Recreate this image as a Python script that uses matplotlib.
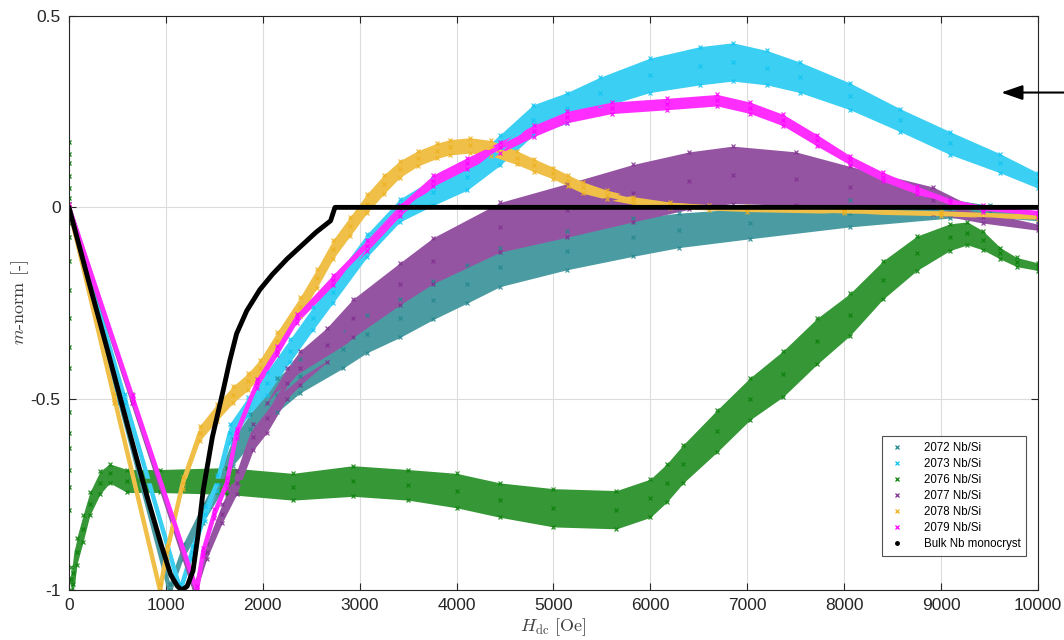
import numpy as np
import matplotlib
matplotlib.use("Agg")
import matplotlib.pyplot as plt
from matplotlib.lines import Line2D
from matplotlib.colors import to_rgb

plt.rcParams["font.family"] = ["Liberation Sans", "DejaVu Sans"]
plt.rcParams["mathtext.fontset"] = "cm"

# field sweep H_dc [Oe] vs normalised moment, one band per sample
# (x, centre value, half spread of the scattered points)
h_2072 = [0, 520, 1040, 1175, 1380, 1560, 1690, 1870, 2150, 2385, 2830, 3075, 3415, 3760,
          4110, 4450, 5140, 5820, 6300, 7030, 8060, 9090, 9500, 10000]
m_2072 = [0, -0.5, -1.0, -0.9, -0.8, -0.72, -0.64, -0.58, -0.49, -0.44, -0.37, -0.33, -0.29, -0.243,
          -0.2, -0.157, -0.113, -0.078, -0.06, -0.042, -0.016, -0.003, -0.01, -0.025]
s_2072 = [0.01, 0.012, 0.015, 0.02, 0.025, 0.03, 0.035, 0.04, 0.045, 0.045, 0.05, 0.05, 0.05, 0.05,
          0.05, 0.05, 0.05, 0.05, 0.045, 0.04, 0.035, 0.025, 0.015, 0.01]

h_2073 = [0, 575, 1150, 1270, 1400, 1530, 1660, 1850, 2040, 2280, 2520, 2725, 3075, 3415, 3760,
          4110, 4450, 4790, 5140, 5480, 5995, 6510, 6850, 7200, 7540, 8060, 8575, 9090, 9610, 10000]
m_2073 = [0, -0.5, -1.0, -0.9, -0.8, -0.72, -0.59, -0.52, -0.46, -0.375, -0.29, -0.22, -0.1, -0.008, 0.04,
          0.08, 0.15, 0.228, 0.26, 0.3, 0.345, 0.37, 0.38, 0.365, 0.34, 0.29, 0.228, 0.168, 0.115, 0.07]
s_2073 = [0.01, 0.012, 0.015, 0.015, 0.02, 0.02, 0.025, 0.025, 0.03, 0.03, 0.03, 0.03, 0.03, 0.03, 0.035,
          0.035, 0.04, 0.04, 0.04, 0.04, 0.045, 0.05, 0.05, 0.045, 0.04, 0.035, 0.03, 0.03, 0.025, 0.02]

h_2076 = [20, 40, 80, 145, 215, 320, 420, 600, 940, 1630, 2310, 2930, 3500, 4000, 4450, 5000, 5650,
          6000, 6170, 6340, 6690, 7030, 7370, 7720, 8060, 8400, 8750, 9090, 9270, 9430, 9610, 9780, 10000]
m_2076 = [-0.97, -0.985, -0.9, -0.84, -0.775, -0.72, -0.695, -0.715, -0.715, -0.715, -0.73, -0.715, -0.725,
          -0.74, -0.765, -0.785, -0.79, -0.76, -0.72, -0.67, -0.584, -0.5, -0.435, -0.35, -0.28, -0.19,
          -0.12, -0.078, -0.068, -0.086, -0.12, -0.143, -0.155]
s_2076 = [0.03, 0.03, 0.035, 0.035, 0.03, 0.03, 0.025, 0.03, 0.03, 0.035, 0.035, 0.04, 0.04, 0.045, 0.045,
          0.05, 0.05, 0.05, 0.05, 0.05, 0.055, 0.055, 0.06, 0.06, 0.055, 0.05, 0.045, 0.035, 0.03, 0.025,
          0.015, 0.012, 0.01]
# first readings of 2076, all taken at zero field
m_2076_zero = [0.17, 0.14, 0.115, 0.083, 0.05, 0.025, -0.04, -0.077, -0.14, -0.215, -0.29, -0.365,
               -0.42, -0.535, -0.59, -0.63, -0.685, -0.73, -0.79]

h_2077 = [0, 650, 1300, 1420, 1580, 1730, 1900, 2040, 2250, 2385, 2660, 2930, 3415, 3760, 4450, 5140,
          5820, 6400, 6850, 7500, 8060, 8920, 9430, 10000]
m_2077 = [0, -0.5, -1.0, -0.9, -0.8, -0.72, -0.6, -0.55, -0.46, -0.42, -0.36, -0.29, -0.2, -0.139, -0.052,
          -0.008, 0.037, 0.07, 0.085, 0.075, 0.052, 0.018, -0.026, -0.052]
s_2077 = [0.01, 0.012, 0.015, 0.02, 0.025, 0.03, 0.035, 0.04, 0.04, 0.045, 0.045, 0.05, 0.055, 0.06, 0.065,
          0.07, 0.075, 0.075, 0.075, 0.07, 0.055, 0.035, 0.015, 0.008]

h_2078 = [0, 470, 940, 1010, 1175, 1350, 1530, 1690, 1850, 1970, 2150, 2385, 2560, 2725, 2900, 3075,
          3250, 3415, 3600, 3800, 3930, 4140, 4350, 4620, 4800, 5000, 5150, 5300, 5550, 5820, 6200,
          6600, 7000, 8000, 9000, 10000]
m_2078 = [0, -0.5, -1.0, -0.9, -0.72, -0.59, -0.535, -0.49, -0.455, -0.42, -0.35, -0.26, -0.185, -0.11,
          -0.05, 0.01, 0.06, 0.1, 0.128, 0.148, 0.157, 0.162, 0.155, 0.13, 0.11, 0.089, 0.07, 0.052,
          0.033, 0.018, 0.006, 0.0, -0.004, -0.01, -0.016, -0.025]
s_2078 = [0.01, 0.012, 0.015, 0.015, 0.015, 0.02, 0.022, 0.022, 0.022, 0.022, 0.025, 0.025, 0.025, 0.025,
          0.025, 0.025, 0.025, 0.022, 0.02, 0.02, 0.02, 0.02, 0.02, 0.018, 0.017, 0.015, 0.015, 0.015,
          0.012, 0.01, 0.008, 0.007, 0.007, 0.006, 0.006, 0.006]

h_2079 = [0, 660, 1320, 1385, 1500, 1630, 1730, 1940, 2150, 2350, 2725, 3075, 3415, 3760, 4110, 4450,
          4800, 5140, 5600, 6170, 6690, 7030, 7370, 7720, 8060, 8400, 8750, 9090, 9430, 10000]
m_2079 = [0, -0.5, -1.0, -0.9, -0.8, -0.72, -0.59, -0.46, -0.375, -0.29, -0.19, -0.1, -0.008, 0.07,
          0.115, 0.157, 0.2, 0.236, 0.26, 0.27, 0.28, 0.26, 0.228, 0.175, 0.123, 0.08, 0.045, 0.013,
          -0.003, -0.016]
s_2079 = [0.008, 0.01, 0.01, 0.01, 0.012, 0.012, 0.012, 0.012, 0.012, 0.012, 0.014, 0.015, 0.015, 0.015,
          0.015, 0.015, 0.015, 0.015, 0.015, 0.015, 0.015, 0.015, 0.015, 0.015, 0.012, 0.012, 0.01,
          0.01, 0.008, 0.008]

h_bulk = [0, 200, 400, 600, 800, 950, 1050, 1120, 1165, 1220, 1280, 1330, 1385, 1480, 1590, 1660,
          1730, 1835, 1970, 2100, 2250, 2400, 2550, 2650, 2700, 2745, 10000]
m_bulk = [0, -0.19, -0.375, -0.565, -0.75, -0.88, -0.96, -0.99, -1.0, -0.99, -0.95, -0.86, -0.74, -0.6,
          -0.48, -0.4, -0.33, -0.27, -0.215, -0.175, -0.135, -0.1, -0.065, -0.045, -0.035, 0.0, 0.0]

samples = [
    ("2072 Nb/Si", "#23868e", h_2072, m_2072, s_2072),
    ("2073 Nb/Si", "#10c4f2", h_2073, m_2073, s_2073),
    ("2076 Nb/Si", "#0a800a", h_2076, m_2076, s_2076),
    ("2077 Nb/Si", "#7e2f8e", h_2077, m_2077, s_2077),
    ("2078 Nb/Si", "#edb120", h_2078, m_2078, s_2078),
    ("2079 Nb/Si", "#ff00ff", h_2079, m_2079, s_2079),
]


def lighten(col, amount):
    """Blend a colour towards white (amount=1 keeps the colour)."""
    r, g, b = to_rgb(col)
    return (1 - amount * (1 - r), 1 - amount * (1 - g), 1 - amount * (1 - b))


fig = plt.figure(figsize=(10.64, 6.4), dpi=100)
ax = fig.add_axes([0.0648, 0.078, 0.9108, 0.897])

handles = []
for name, col, h, m, s in samples:
    h = np.asarray(h, float)
    m = np.asarray(m, float)
    s = np.asarray(s, float)
    band = lighten(col, 0.82)
    ax.fill_between(h, m - s, m + s, color=band, lw=0)
    ax.plot(h, m, color=band, lw=3.2, solid_capstyle="round", solid_joinstyle="round")
    ax.plot(np.r_[h, h, h], np.r_[m - s, m, m + s], ls="none", marker="x",
            ms=3, mew=0.9, color=col, alpha=0.85)
    if name.startswith("2076"):
        ax.plot(np.zeros(len(m_2076_zero)), m_2076_zero, ls="none", marker="x",
                ms=3, mew=0.9, color=col)
    handles.append(Line2D([], [], ls="none", marker="x", ms=2.5, mew=0.9, color=col, label=name))

ax.plot(h_bulk, m_bulk, color="black", lw=3.5, solid_capstyle="round", solid_joinstyle="round")
handles.append(Line2D([], [], ls="none", marker=".", ms=5, color="black", label="Bulk Nb monocryst"))

# arrow pointing into the plot from the right margin
ax.annotate("", xy=(9620, 0.30), xytext=(10300, 0.30), xycoords="data",
            arrowprops=dict(arrowstyle="-|>,head_length=1.3,head_width=0.45",
                            color="black", lw=1.5, shrinkA=0, shrinkB=0),
            annotation_clip=False)

ax.set_xlim(0, 10000)
ax.set_ylim(-1, 0.5)
xt = [0, 1000, 2000, 3000, 4000, 5000, 6000, 7000, 8000, 9000, 10000]
yt = [-1, -0.5, 0, 0.5]
ax.set_xticks(xt)
ax.set_xticklabels([str(v) for v in xt])
ax.set_yticks(yt)
ax.set_yticklabels(["-1", "-0.5", "0", "0.5"])
ax.tick_params(direction="in", length=5, width=0.8, top=True, right=True,
               labelsize=12.5, colors="#262626", pad=6)
ax.grid(True, color="#dcdcdc", lw=0.8)
ax.set_axisbelow(True)
for sp in ax.spines.values():
    sp.set_color("#262626")
    sp.set_linewidth(0.8)

ax.set_xlabel(r"$H_{\mathrm{dc}}$ [Oe]", fontfamily="cmr10", fontsize=13, color="#404040", labelpad=2)
ax.set_ylabel(r"$m$-norm [-]", fontfamily="cmr10", fontsize=13, color="#404040", labelpad=0)

leg = ax.legend(handles=handles, loc="lower right", bbox_to_anchor=(0.988, 0.059),
                borderaxespad=0, fontsize=8.3, frameon=True, fancybox=False, edgecolor="#262626",
                handlelength=1.5, handletextpad=1.6, borderpad=0.5, labelspacing=0.35)
leg.get_frame().set_linewidth(0.8)

fig.savefig("out.png", dpi=100)
